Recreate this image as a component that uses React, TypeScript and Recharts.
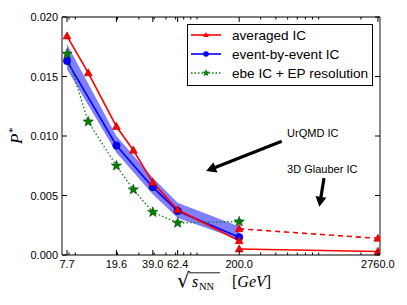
import React from 'react';
import { ComposedChart, Line, Area, XAxis, YAxis, Legend, ReferenceLine, ReferenceDot, Label } from 'recharts';

// ---- data ----
const energies = [7.7, 11.5, 19.6, 27, 39, 62.4, 200];
const averagedIC = [0.0184, 0.0153, 0.0108, 0.0088, 0.0061, 0.0038, 0.0012];
const epResolution = [0.0169, 0.0112, 0.0075, 0.0055, 0.0036, 0.0027, 0.0028];
const ebeEnergies = [7.7, 19.6, 39, 62.4, 200];
const ebeIC = [0.0163, 0.0092, 0.0057, 0.0037, 0.0015];
const ebeLow = [0.0156, 0.0086, 0.0051, 0.0031, 0.0013];
const ebeHigh = [0.0177, 0.0100, 0.0065, 0.0044, 0.0024];
const glauberEnergies = [200, 2760];
const glauberUpper = [0.0022, 0.0014];
const glauberLower = [0.0005, 0.0003];

const xMajorTicks = [7.7, 19.6, 39.0, 62.4, 200.0, 2760.0];
const xMinorTicks = [8, 9, 20, 30, 40, 50, 60, 70, 80, 90, 300, 400, 500, 600, 700, 800, 900, 2000];
const yTicks = [0, 0.005, 0.01, 0.015, 0.02];
const xDomain = [7, 2870];
const yDomain = [0, 0.02];

const legendLabels = ['averaged IC', 'event-by-event IC', 'ebe IC + EP resolution'];
const annotUrqmd = { label: 'UrQMD IC', x: 495, y: 0.0099, from: [447, 0.00956], to: [107, 0.00705] };
const annotGlauber = { label: '3D Glauber IC', x: 495, y: 0.00685, from: [995, 0.00646], to: [911, 0.00405] };

// ---- built tables ----
const avgData = energies.map((e, i) => ({ x: e, y: averagedIC[i] }));
const epData = energies.map((e, i) => ({ x: e, y: epResolution[i] }));
const ebeData = ebeEnergies.map((e, i) => ({ x: e, y: ebeIC[i], band: [ebeLow[i], ebeHigh[i]] }));
const glUpData = glauberEnergies.map((e, i) => ({ x: e, y: glauberUpper[i] }));
const glLowData = glauberEnergies.map((e, i) => ({ x: e, y: glauberLower[i] }));
const allXTicks = Array.from(new Set([...xMajorTicks, ...xMinorTicks])).sort((a, b) => a - b);

const FONT = '"Liberation Sans", Arial, Helvetica, sans-serif';
const SERIF = '"Liberation Serif", "DejaVu Serif", serif';
const RED = '#ff0000';
const BLUE = '#0000ff';
const GREEN = '#008000';
const AXIS = '#555';

const isMajor = (v: number) => xMajorTicks.some((m) => Math.abs(m - v) < 1e-9);

const BottomTick = (p: any) => {
  const { x, y, payload } = p;
  const major = isMajor(payload.value);
  return (
    <g>
      <line x1={x} x2={x} y1={y} y2={y - (major ? 5 : 2.5)} stroke="#000" strokeWidth={1} />
      {major && (
        <text x={x} y={y + 13} textAnchor="middle" fontFamily={FONT} fontSize={11} fill="#000">
          {Number(payload.value).toFixed(1)}
        </text>
      )}
    </g>
  );
};
const TopTick = (p: any) => {
  const { x, y, payload } = p;
  const major = isMajor(payload.value);
  return <line x1={x} x2={x} y1={y} y2={y + (major ? 5 : 2.5)} stroke="#000" strokeWidth={1} />;
};
const LeftTick = (p: any) => {
  const { x, y, payload } = p;
  return (
    <g>
      <line x1={x} x2={x + 5} y1={y} y2={y} stroke="#000" strokeWidth={1} />
      <text x={x - 4} y={y + 4} textAnchor="end" fontFamily={FONT} fontSize={11} fill="#000">
        {Number(payload.value).toFixed(3)}
      </text>
    </g>
  );
};
const RightTick = (p: any) => {
  const { x, y } = p;
  return <line x1={x} x2={x - 5} y1={y} y2={y} stroke="#000" strokeWidth={1} />;
};

const triPoints = (cx: number, cy: number, s: number) =>
  `${cx},${cy - s} ${cx - s * 0.95},${cy + s * 0.7} ${cx + s * 0.95},${cy + s * 0.7}`;
const starPoints = (cx: number, cy: number, R: number, r: number) => {
  const pts: string[] = [];
  for (let k = 0; k < 10; k++) {
    const rad = k % 2 === 0 ? R : r;
    const a = -Math.PI / 2 + (k * Math.PI) / 5;
    pts.push(`${cx + rad * Math.cos(a)},${cy + rad * Math.sin(a)}`);
  }
  return pts.join(' ');
};

const TriDot = (p: any) =>
  p.cx == null ? null : (
    <polygon key={`t${p.index}`} points={triPoints(p.cx, p.cy, 4.2)} fill={RED} stroke="#b00000" strokeWidth={0.6} />
  );
const CircDot = (p: any) =>
  p.cx == null ? null : <circle key={`c${p.index}`} cx={p.cx} cy={p.cy} r={3.7} fill={BLUE} stroke="#00008b" strokeWidth={0.6} />;
const StarDot = (p: any) =>
  p.cx == null ? null : (
    <polygon key={`s${p.index}`} points={starPoints(p.cx, p.cy, 5.4, 2.3)} fill={GREEN} stroke="#003000" strokeWidth={0.5} />
  );

const Arrow = (p: any) => {
  const { x1, y1, x2, y2 } = p;
  const dx = x2 - x1;
  const dy = y2 - y1;
  const len = Math.hypot(dx, dy) || 1;
  const ux = dx / len;
  const uy = dy / len;
  const hl = 10;
  const hw = 5.5;
  const bx = x2 - ux * hl;
  const by = y2 - uy * hl;
  return (
    <g>
      <line x1={x1} y1={y1} x2={bx + ux} y2={by + uy} stroke="#000" strokeWidth={3.2} />
      <polygon points={`${x2},${y2} ${bx - uy * hw},${by + ux * hw} ${bx + uy * hw},${by - ux * hw}`} fill="#000" />
    </g>
  );
};

const makeText = (label: string) => (p: any) =>
  (
    <text x={p.cx} y={p.cy} textAnchor="start" fontFamily={FONT} fontSize={11} fill="#000">
      {label}
    </text>
  );

const LegendBox = () => {
  const rows = [
    { c: RED, dash: undefined as string | undefined, m: 'tri' },
    { c: BLUE, dash: undefined, m: 'circ' },
    { c: GREEN, dash: '1.5 2', m: 'star' },
  ];
  return (
    <svg width={186} height={62} style={{ display: 'block' }}>
      <rect x={0.5} y={0.5} width={185} height={61} fill="#fff" stroke="#000" strokeWidth={1} />
      {rows.map((r, i) => {
        const cy = 11 + i * 19;
        return (
          <g key={i}>
            <line x1={4} x2={34} y1={cy} y2={cy} stroke={r.c} strokeWidth={1.6} strokeDasharray={r.dash} />
            {r.m === 'tri' && <polygon points={triPoints(19, cy, 3)} fill={RED} />}
            {r.m === 'circ' && <circle cx={19} cy={cy} r={2.8} fill={BLUE} />}
            {r.m === 'star' && <polygon points={starPoints(19, cy, 4, 1.7)} fill={GREEN} />}
            <text x={45} y={cy + 4.8} fontFamily={FONT} fontSize={13.6} fill="#000">
              {legendLabels[i]}
            </text>
          </g>
        );
      })}
    </svg>
  );
};

const XLabel = () => (
  <g>
    <text y={287} fontFamily={SERIF} fontSize={16} fill="#000">
      <tspan x={177} fontSize={20} fontFamily='"DejaVu Sans", sans-serif'>√</tspan>
      <tspan x={192} fontStyle="italic">s</tspan>
      <tspan x={199} dy={3} fontSize={10.5}>NN</tspan>
      <tspan x={232} dy={-3}>[</tspan>
      <tspan fontStyle="italic">GeV</tspan>
      <tspan>]</tspan>
    </text>
    <line x1={189} x2={220} y1={272.8} y2={272.8} stroke="#000" strokeWidth={0.9} />
  </g>
);

const YLabel = () => (
  <text
    x={0}
    y={0}
    transform="translate(22,136) rotate(-90)"
    textAnchor="middle"
    fontFamily={SERIF}
    fontStyle="italic"
    fontSize={17}
    fill="#000"
  >
    <tspan>P</tspan>
    <tspan dy={-6} fontSize={11}>*</tspan>
  </text>
);

export default function App() {
  return (
    <div style={{ position: 'absolute', left: 0, top: 0, width: 407, height: 305, background: '#fff' }}>
      <ComposedChart
        width={407}
        height={305}
        margin={{ top: 16, right: 26, bottom: 49, left: 61 }}
        style={{ fontFamily: FONT }}
      >
        <XAxis
          xAxisId={0}
          dataKey="x"
          type="number"
          scale="log"
          domain={xDomain}
          ticks={allXTicks}
          interval={0}
          allowDataOverflow
          height={1}
          tickSize={0}
          tickMargin={0}
          tick={<BottomTick />}
          axisLine={{ stroke: AXIS, strokeWidth: 1.4 }}
        >
          <Label content={<XLabel />} />
        </XAxis>
        <XAxis
          xAxisId="top"
          orientation="top"
          dataKey="x"
          type="number"
          scale="log"
          domain={xDomain}
          ticks={allXTicks}
          interval={0}
          allowDataOverflow
          height={1}
          tickSize={0}
          tickMargin={0}
          tick={<TopTick />}
          axisLine={{ stroke: AXIS, strokeWidth: 1.4 }}
        />
        <YAxis
          yAxisId={0}
          type="number"
          domain={yDomain}
          ticks={yTicks}
          interval={0}
          allowDataOverflow
          width={1}
          tickSize={0}
          tickMargin={0}
          tick={<LeftTick />}
          axisLine={{ stroke: AXIS, strokeWidth: 1.4 }}
        >
          <Label content={<YLabel />} />
        </YAxis>
        <YAxis
          yAxisId="right"
          orientation="right"
          type="number"
          domain={yDomain}
          ticks={yTicks}
          interval={0}
          allowDataOverflow
          width={1}
          tickSize={0}
          tickMargin={0}
          tick={<RightTick />}
          axisLine={{ stroke: AXIS, strokeWidth: 1.4 }}
        />

        <Area
          data={ebeData}
          dataKey="band"
          type="linear"
          stroke="none"
          fill={BLUE}
          fillOpacity={0.5}
          isAnimationActive={false}
          activeDot={false}
        />
        <Line data={ebeData} dataKey="y" type="linear" stroke={BLUE} strokeWidth={1.6} dot={CircDot} activeDot={false} isAnimationActive={false} />
        <Line data={epData} dataKey="y" type="linear" stroke={GREEN} strokeWidth={1.3} strokeDasharray="1.5 2.2" dot={StarDot} activeDot={false} isAnimationActive={false} />
        <Line data={avgData} dataKey="y" type="linear" stroke={RED} strokeWidth={1.6} dot={TriDot} activeDot={false} isAnimationActive={false} />
        <Line data={glUpData} dataKey="y" type="linear" stroke={RED} strokeWidth={1.6} strokeDasharray="5 4" dot={TriDot} activeDot={false} isAnimationActive={false} />
        <Line data={glLowData} dataKey="y" type="linear" stroke={RED} strokeWidth={1.6} dot={TriDot} activeDot={false} isAnimationActive={false} />

        <ReferenceLine
          segment={[
            { x: annotUrqmd.from[0], y: annotUrqmd.from[1] },
            { x: annotUrqmd.to[0], y: annotUrqmd.to[1] },
          ]}
          shape={Arrow}
        />
        <ReferenceLine
          segment={[
            { x: annotGlauber.from[0], y: annotGlauber.from[1] },
            { x: annotGlauber.to[0], y: annotGlauber.to[1] },
          ]}
          shape={Arrow}
        />
        <ReferenceDot x={annotUrqmd.x} y={annotUrqmd.y} r={0} shape={makeText(annotUrqmd.label)} />
        <ReferenceDot x={annotGlauber.x} y={annotGlauber.y} r={0} shape={makeText(annotGlauber.label)} />

        <Legend
          layout="vertical"
          align="center"
          verticalAlign="middle"
          content={<LegendBox />}
          wrapperStyle={{ left: 187, top: 24, width: 186, height: 62 }}
        />
      </ComposedChart>
    </div>
  );
}
